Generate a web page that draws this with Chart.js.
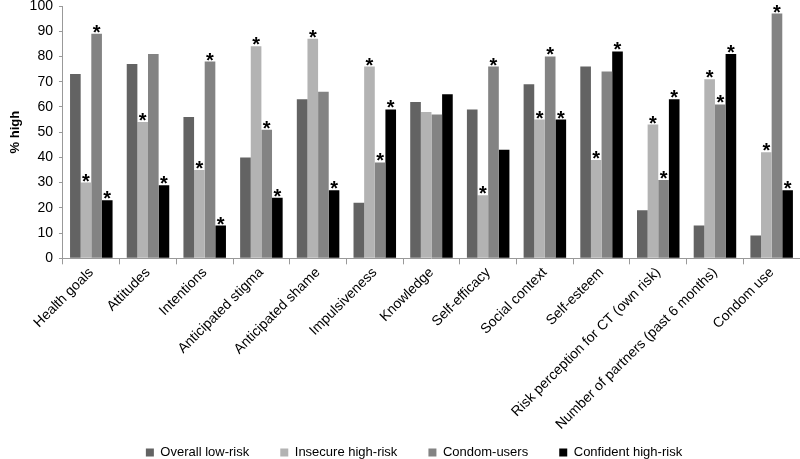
<!DOCTYPE html>
<html>
<head>
<meta charset="utf-8">
<script src="https://cdn.jsdelivr.net/npm/chart.js@4"></script>
<style>
  html, body { margin: 0; padding: 0; background: #fff; }
  #wrap { width: 800px; height: 459px; }
</style>
</head>
<body>
<div id="wrap"><canvas id="chart"></canvas></div>
<script>
// categories on the x axis
const categories = [
  "Health goals", "Attitudes", "Intentions", "Anticipated stigma",
  "Anticipated shame", "Impulsiveness", "Knowledge", "Self-efficacy",
  "Social context", "Self-esteem", "Risk perception for CT (own risk)",
  "Number of partners (past 6 months)", "Condom use"
];

// % high per group
const overallLowRisk    = [73, 77, 56, 40, 63, 22, 62, 59, 69, 76, 19, 13, 9];
const insecureHighRisk  = [30, 54, 35, 84, 87, 76, 58, 25, 55, 39, 53, 71, 42];
const condomUsers       = [89, 81, 78, 51, 66, 38, 57, 76, 80, 74, 31, 61, 97];
const confidentHighRisk = [23, 29, 13, 24, 27, 59, 65, 43, 55, 82, 63, 81, 27];

// significance markers (1 = asterisk above the bar)
const sigOverall   = [0, 0, 0, 0, 0, 0, 0, 0, 0, 0, 0, 0, 0];
const sigInsecure  = [1, 1, 1, 1, 1, 1, 0, 1, 1, 1, 1, 1, 1];
const sigCondom    = [1, 0, 1, 1, 0, 1, 0, 1, 1, 0, 1, 1, 1];
const sigConfident = [1, 1, 1, 1, 1, 1, 0, 0, 1, 1, 1, 1, 1];

const yTicks = [0, 10, 20, 30, 40, 50, 60, 70, 80, 90, 100];

const FONT = "'Liberation Sans', Arial, sans-serif";

// draws the asterisks on top of flagged bars
const starPlugin = {
  id: "stars",
  afterDatasetsDraw(chart) {
    const ctx = chart.ctx;
    ctx.save();
    ctx.fillStyle = "#000";
    ctx.font = "bold 20px " + FONT;
    ctx.textAlign = "center";
    ctx.textBaseline = "alphabetic";
    chart.data.datasets.forEach((ds, i) => {
      const meta = chart.getDatasetMeta(i);
      meta.data.forEach((bar, j) => {
        if (ds.sig[j]) {
          ctx.fillText("*", bar.x, bar.y + 5);
        }
      });
    });
    ctx.restore();
  }
};

// nudge the legend a little right of the canvas centre
const legendShift = {
  id: "legendShift",
  afterLayout(chart) {
    if (chart.legend) {
      chart.legend.left += 14;
      chart.legend.right += 14;
    }
  }
};

const myChart = new Chart("chart", {
  type: "bar",
  data: {
    labels: categories,
    datasets: [
      { label: "Overall low-risk", data: overallLowRisk, sig: sigOverall, backgroundColor: "#636363" },
      { label: "Insecure high-risk", data: insecureHighRisk, sig: sigInsecure, backgroundColor: "#b3b3b3" },
      { label: "Condom-users", data: condomUsers, sig: sigCondom, backgroundColor: "#838383" },
      { label: "Confident high-risk", data: confidentHighRisk, sig: sigConfident, backgroundColor: "#000000" }
    ]
  },
  options: {
    responsive: true,
    maintainAspectRatio: false,
    animation: false,
    layout: { padding: { top: 6, right: 0, left: 0, bottom: -10 } },
    datasets: {
      bar: { categoryPercentage: 0.75, barPercentage: 1.0, borderWidth: 0 }
    },
    scales: {
      x: {
        grid: { display: true, drawOnChartArea: false, offset: true, color: "#999", tickLength: 6 },
        border: { color: "#999" },
        ticks: {
          color: "#000", maxRotation: 45, minRotation: 45, autoSkip: false,
          font: { family: FONT, size: 14 }, padding: 0
        }
      },
      y: {
        min: 0, max: 100,
        afterBuildTicks(axis) { axis.ticks = yTicks.map(v => ({ value: v })); },
        afterFit(axis) { axis.paddingTop = 0; },
        grid: { display: true, drawOnChartArea: false, color: "#999", tickLength: 4 },
        border: { color: "#999" },
        ticks: { color: "#000", font: { family: FONT, size: 14 }, padding: 6 },
        title: {
          display: true, text: "% high", color: "#000",
          font: { family: FONT, size: 13, weight: "bold" }, padding: { top: 8, bottom: 0 }
        }
      }
    },
    plugins: {
      legend: {
        position: "bottom",
        labels: {
          color: "#000", boxWidth: 8, boxHeight: 8, padding: 13,
          font: { family: FONT, size: 13 },
          // trailing spaces widen the gap between items
          generateLabels(chart) {
            const items = Chart.defaults.plugins.legend.labels.generateLabels(chart);
            items.forEach((it, i) => {
              if (i < items.length - 1) it.text = it.text + "     ";
            });
            return items;
          }
        }
      },
      tooltip: { enabled: false }
    }
  },
  plugins: [starPlugin, legendShift]
});
</script>
</body>
</html>
